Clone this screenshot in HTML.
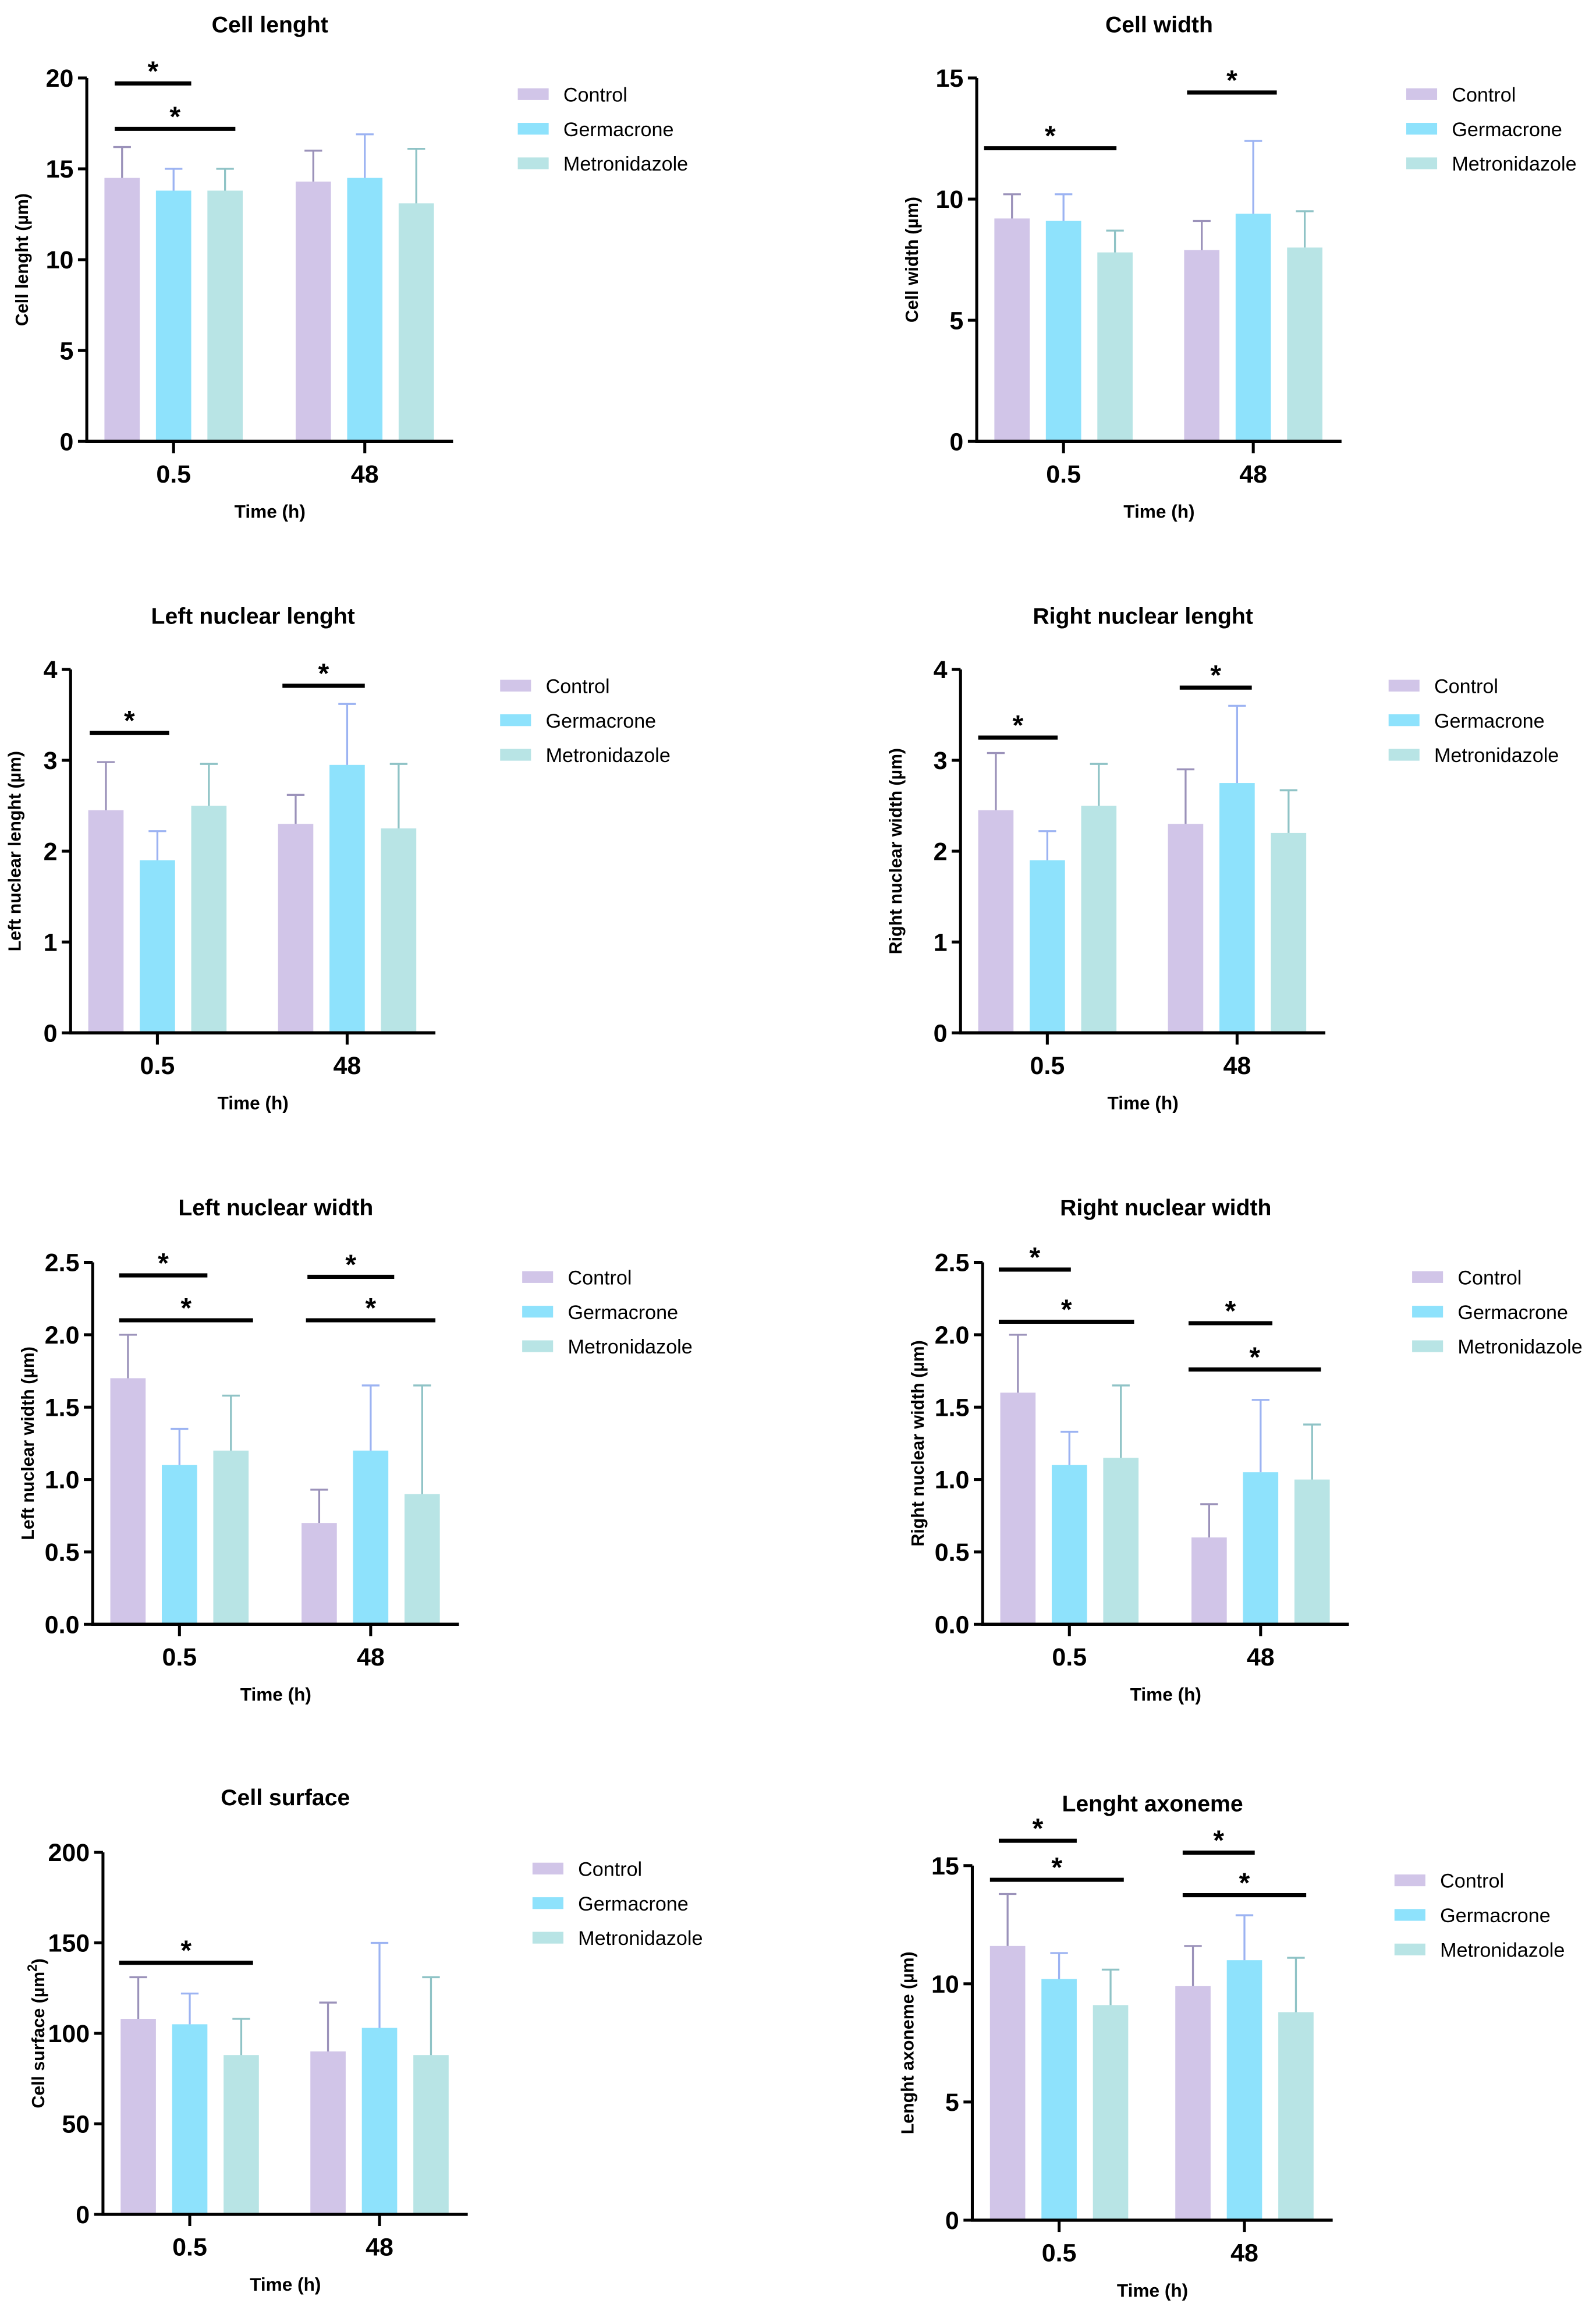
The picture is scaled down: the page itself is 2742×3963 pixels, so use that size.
<!DOCTYPE html>
<html><head><meta charset="utf-8"><style>
html,body{margin:0;padding:0;background:#fff;}
svg{display:block;}
text{font-family:"Liberation Sans",Arial,sans-serif;fill:#000;}
</style></head>
<body>
<svg id="fig" xmlns="http://www.w3.org/2000/svg" width="2742" height="3963" viewBox="0 0 1085 1568" preserveAspectRatio="none"></svg>
<script>
const categories = ["0.5", "48"];
const seriesNames = ["Control", "Germacrone", "Metronidazole"];
// Means [cat0: C,G,M ; cat1: C,G,M]
const cellLengthMeans = [[14.5,13.8,13.8],[14.3,14.5,13.1]];
const cellLengthErr   = [[16.2,15.0,15.0],[16.0,16.9,16.1]];
const cellWidthMeans  = [[9.2,9.1,7.8],[7.9,9.4,8.0]];
const cellWidthErr    = [[10.2,10.2,8.7],[9.1,12.4,9.5]];
const leftNucLenMeans = [[2.45,1.9,2.5],[2.3,2.95,2.25]];
const leftNucLenErr   = [[2.98,2.22,2.96],[2.62,3.62,2.96]];
const rightNucLenMeans= [[2.45,1.9,2.5],[2.3,2.75,2.2]];
const rightNucLenErr  = [[3.08,2.22,2.96],[2.9,3.6,2.67]];
const leftNucWMeans   = [[1.7,1.1,1.2],[0.7,1.2,0.9]];
const leftNucWErr     = [[2.0,1.35,1.58],[0.93,1.65,1.65]];
const rightNucWMeans  = [[1.6,1.1,1.15],[0.6,1.05,1.0]];
const rightNucWErr    = [[2.0,1.33,1.65],[0.83,1.55,1.38]];
const surfaceMeans    = [[108,105,88],[90,103,88]];
const surfaceErr      = [[131,122,108],[117,150,131]];
const axonemeMeans    = [[11.6,10.2,9.1],[9.9,11.0,8.8]];
const axonemeErr      = [[13.8,11.3,10.6],[11.6,12.9,11.1]];
const ticks20  = [0,5,10,15,20];
const ticks15  = [0,5,10,15];
const ticks4   = [0,1,2,3,4];
const ticks25  = ["0.0","0.5","1.0","1.5","2.0","2.5"];
const ticks200 = [0,50,100,150,200];
// significance lines: [value, fromX, toX]
const sig1 = [[19.7,78,130],[17.2,78,160]];
const sig2 = [[12.1,669,759],[14.4,807,868]];
const sig3 = [[3.3,61,115],[3.82,192,248]];
const sig4 = [[3.25,665,719],[3.8,802,851]];
const sig5 = [[2.41,81,141],[2.1,81,172],[2.4,209,268],[2.1,208,296]];
const sig6 = [[2.45,679,728],[2.09,679,771],[2.08,808,865],[1.76,808,898]];
const sig7 = [[139,81,172]];
const sig8 = [[16.05,679,732],[14.4,673,764],[15.55,804,853],[13.75,804,888]];

const fills = ["#d1c5e8","#8ee2fc","#b8e4e5"];
const errCols = ["#9b92ba","#9cb3f2","#8fc3c6"];
const NS = "http://www.w3.org/2000/svg";
const svg = document.getElementById("fig");
function el(tag, attrs, parent){
  const e = document.createElementNS(NS, tag);
  for (const k in attrs) e.setAttribute(k, attrs[k]);
  (parent||svg).appendChild(e);
  return e;
}
const panels = [
 {name:"cell-length", title:"Cell lenght", ylab:"Cell lenght (µm)", means:cellLengthMeans, err:cellLengthErr, ticks:ticks20, max:20, y0:300, ytop:53, gc:[118,248], legX:352, legY:64, sig:sig1},
 {name:"cell-width", title:"Cell width", ylab:"Cell width (µm)", means:cellWidthMeans, err:cellWidthErr, ticks:ticks15, max:15, y0:300, ytop:53, gc:[723,852], legX:956, legY:64, sig:sig2},
 {name:"left-nuclear-length", title:"Left nuclear lenght", ylab:"Left nuclear lenght (µm)", means:leftNucLenMeans, err:leftNucLenErr, ticks:ticks4, max:4, y0:702, ytop:455, gc:[107,236], legX:340, legY:466, sig:sig3},
 {name:"right-nuclear-length", title:"Right nuclear lenght", ylab:"Right nuclear width (µm)", means:rightNucLenMeans, err:rightNucLenErr, ticks:ticks4, max:4, y0:702, ytop:455, gc:[712,841], legX:944, legY:466, sig:sig4},
 {name:"left-nuclear-width", title:"Left nuclear width", ylab:"Left nuclear width (µm)", means:leftNucWMeans, err:leftNucWErr, ticks:ticks25, max:2.5, y0:1104, ytop:858, gc:[122,252], legX:355, legY:868, sig:sig5},
 {name:"right-nuclear-width", title:"Right nuclear width", ylab:"Right nuclear width (µm)", means:rightNucWMeans, err:rightNucWErr, ticks:ticks25, max:2.5, y0:1104, ytop:858, gc:[727,857], legX:960, legY:868, sig:sig6},
 {name:"cell-surface", title:"Cell surface", ylab:"Cell surface (µm", sup:true, means:surfaceMeans, err:surfaceErr, ticks:ticks200, max:200, y0:1505, ytop:1259, gc:[129,258], legX:362, legY:1270, sig:sig7},
 {name:"length-axoneme", title:"Lenght axoneme", ylab:"Lenght axoneme (µm)", means:axonemeMeans, err:axonemeErr, ticks:ticks15, max:15, y0:1509, ytop:1268, gc:[720,846], legX:948, legY:1278, sig:sig8},
];
panels.forEach(p=>{
  const g = el("g",{});
  
  
  const ax = p.gc[0]-59, xe = p.gc[1]+60;
  const ys = v => p.y0 - (v/p.max)*(p.y0-p.ytop);
  const mid = (ax+xe)/2;
  const t = el("text",{x:mid,y:p.y0-278,"text-anchor":"middle","font-size":15.5,"font-weight":"bold"},g);
  t.textContent = p.title;
  
  
  p.means.forEach((grp,ci)=>{
    grp.forEach((v,si)=>{
      const cx = p.gc[ci] + (si-1)*35;
      const r = el("rect",{x:cx-12,y:ys(v),width:24,height:p.y0-ys(v),fill:fills[si]},g);
      
      
      const e = p.err[ci][si];
      const l = el("path",{d:`M${cx} ${ys(v)}V${ys(e)}M${cx-6} ${ys(e)}H${cx+6}`,stroke:errCols[si],"stroke-width":1.3,fill:"none"},g);
      
      
    });
  });
  const ya = el("path",{d:`M${ax} ${p.ytop}V${p.y0}`,stroke:"#000","stroke-width":2,fill:"none"},g);
  
  
  const xa = el("path",{d:`M${ax-1} ${p.y0}H${xe}`,stroke:"#000","stroke-width":2.2,fill:"none"},g);
  
  
  p.ticks.forEach(tv=>{
    const y = ys(parseFloat(tv));
    el("path",{d:`M${ax-6} ${y}H${ax}`,stroke:"#000","stroke-width":2},g);
    const tl = el("text",{x:ax-9,y:y+6,"text-anchor":"end","font-size":17,"font-weight":"bold"},g);
    tl.textContent = tv;
    
    
  });
  categories.forEach((c,ci)=>{
    el("path",{d:`M${p.gc[ci]} ${p.y0}V${p.y0+8}`,stroke:"#000","stroke-width":2},g);
    const tl = el("text",{x:p.gc[ci],y:p.y0+28,"text-anchor":"middle","font-size":17,"font-weight":"bold"},g);
    tl.textContent = c;
    
    
  });
  const xt = el("text",{x:mid,y:p.y0+52,"text-anchor":"middle","font-size":12.5,"font-weight":"bold"},g);
  xt.textContent = "Time (h)";
  
  
  const ymid = (p.y0+p.ytop)/2;
  const yx = Math.max(ax-40, 14);
  const yt = el("text",{x:yx,y:ymid,"text-anchor":"middle","font-size":12,"font-weight":"bold",transform:`rotate(-90 ${yx} ${ymid})`},g);
  yt.textContent = p.ylab;
  if (p.sup){
    const s = el("tspan",{"font-size":9,dy:-5},yt); s.textContent="2";
    const s2 = el("tspan",{dy:5},yt); s2.textContent=")";
  }
  
  
  p.sig.forEach(s=>{
    const y = ys(s[0]);
    const ln = el("path",{d:`M${s[1]} ${y}H${s[2]}`,stroke:"#000","stroke-width":2.8},g);
    
    
    const st = el("text",{x:(s[1]+s[2])/2,y:y-2,"text-anchor":"middle","font-size":19,"font-weight":"bold"},g);
    st.textContent = "*";
    
    
  });
  seriesNames.forEach((n,si)=>{
    const y = p.legY + si*23.5;
    const sw = el("rect",{x:p.legX,y:y-4,width:21,height:8,fill:fills[si]},g);
    
    
    const lt = el("text",{x:p.legX+31,y:y+5,"font-size":13.5},g);
    lt.textContent = n;
    
    
  });
});
</script>
</body></html>
